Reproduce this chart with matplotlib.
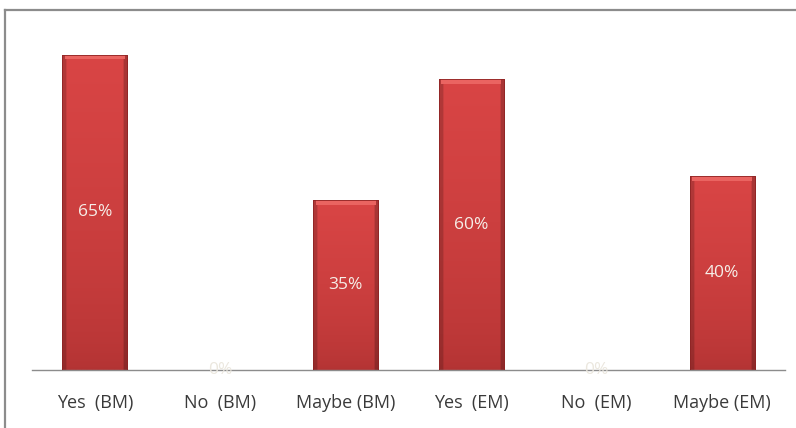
import numpy as np
import matplotlib.pyplot as plt
from matplotlib.lines import Line2D
import matplotlib.colors as colors

categorias = ['Yes  (BM)', 'No  (BM)', 'Maybe (BM)', 'Yes  (EM)', 'No  (EM)', 'Maybe (EM)']
valores = [65, 0, 35, 60, 0, 40]
rotulos = ['65%', '0%', '35%', '60%', '0%', '40%']

W, H = 796, 428
fig = plt.figure(figsize=(W / 100, H / 100), dpi=100)
plt.rcParams['font.family'] = ['Open Sans', 'DejaVu Sans']

# eixo posicionado em pixels: base em y=370, de x=32 a x=785
x0, x1, yb = 32, 785, 370
ymax = 70
px_por_pct = 315 / 65
ytop = yb - ymax * px_por_pct
ax = fig.add_axes([x0 / W, 1 - yb / H, (x1 - x0) / W, (yb - ytop) / H])
ax.set_xlim(-0.5, len(categorias) - 0.5)
ax.set_ylim(0, ymax)

x = np.arange(len(categorias))
largura = 0.52
barras = ax.bar(x, valores, width=largura, color='#c83a38',
                edgecolor='#8e2424', linewidth=0.6, zorder=2)

# textura da barra: degradê vertical + laterais mais escuras (bisel)
topo = np.array(colors.to_rgb('#d94545'))
base = np.array(colors.to_rgb('#b23333'))
ny, nx = 200, 60
t = np.linspace(0, 1, ny).reshape(-1, 1, 1)
cor = base + (topo - base) * t ** 0.6
cor = np.repeat(cor, nx, axis=1)
u = np.linspace(0, 1, nx)
sombra = np.ones(nx)
sombra[u < 0.06] = 0.82
sombra[u > 0.94] = 0.78
cor = cor * sombra.reshape(1, -1, 1)

for b, v in zip(barras, valores):
    if v <= 0:
        continue
    xl = b.get_x()
    im = ax.imshow(np.clip(cor, 0, 1), aspect='auto', origin='lower',
                   extent=[xl, xl + largura, 0, v], zorder=2.5,
                   interpolation='bilinear')
    im.set_clip_path(b)
    # faixa clara no topo
    ax.add_patch(plt.Rectangle((xl + 0.02, v - 0.9), largura - 0.04, 0.9,
                               color='#ea6461', lw=0, zorder=2.6))
    ax.bar(xl + largura / 2, v, width=largura, fill=False,
           edgecolor='#8e2424', linewidth=0.6, zorder=2.7)

for xi, v, r in zip(x, valores, rotulos):
    if v > 0:
        ax.text(xi, v / 2, r, ha='center', va='center', fontsize=12.5,
                color='#f6eee8', zorder=3)
    else:
        ax.text(xi, 0, r, ha='center', va='center', fontsize=12.5,
                color='#ebe7de', zorder=3)

ax.set_xticks(x)
ax.set_xticklabels(categorias, fontsize=13, color='#3a3a3a')
ax.tick_params(axis='x', length=0, pad=17)
ax.set_yticks([])
for lado in ['top', 'right', 'left']:
    ax.spines[lado].set_visible(False)
ax.spines['bottom'].set_color('#8c8c8c')
ax.spines['bottom'].set_linewidth(1.0)
ax.patch.set_alpha(0)

# moldura cinza da área do gráfico (topo e lado esquerdo)
fig.add_artist(Line2D([5 / W, 1], [1 - 10 / H, 1 - 10 / H], transform=fig.transFigure,
                      color='#8c8c8c', lw=1.6))
fig.add_artist(Line2D([5 / W, 5 / W], [0, 1 - 10 / H], transform=fig.transFigure,
                      color='#8c8c8c', lw=1.6))

fig.savefig('out.png', dpi=100)
